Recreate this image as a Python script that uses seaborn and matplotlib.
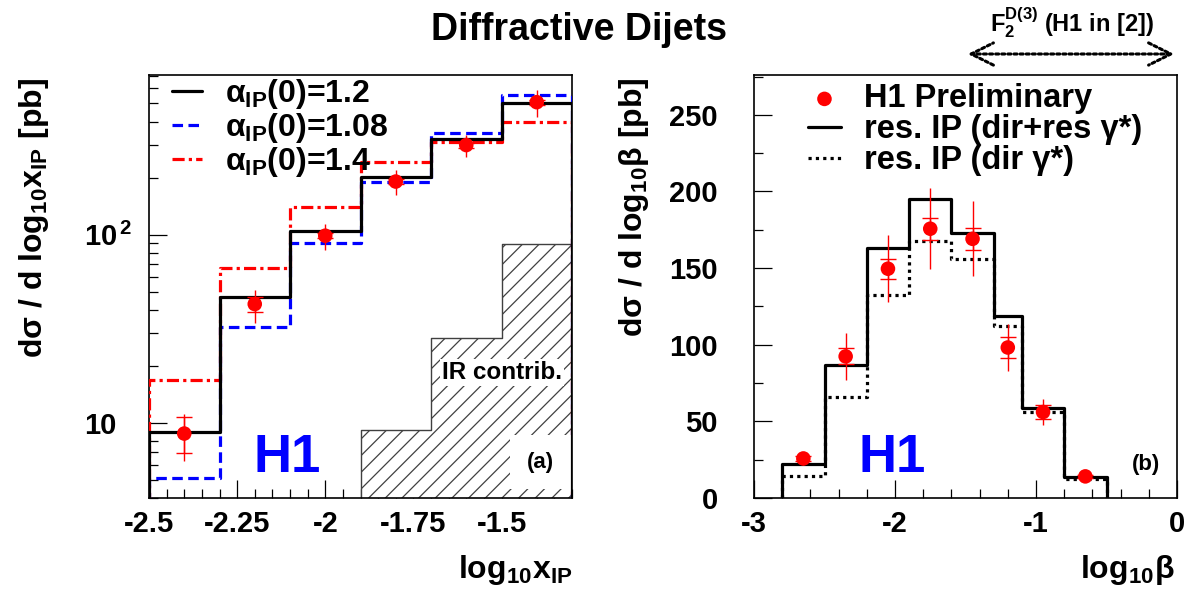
import numpy as np
import matplotlib
matplotlib.use("Agg")
import matplotlib.pyplot as plt
from matplotlib.ticker import FixedLocator, MultipleLocator, LogLocator, FuncFormatter, NullFormatter
from matplotlib.patches import FancyArrowPatch
import seaborn as sns

# ---- (a) d sigma / d log10 x_IP ----
xip_edges = [-2.5, -2.3, -2.1, -1.9, -1.7, -1.5, -1.3]
xip_data = [8.8, 42.9, 99.0, 192.0, 300.0, 507.0]
xip_tot_lo = [6.3, 34.2, 83.2, 163.0, 259.0, 424.0]
xip_tot_hi = [11.2, 51.1, 114.0, 221.0, 340.0, 589.0]
xip_stat_lo = [6.9, 38.7, 96.0, 186.0, 291.0, 492.0]
xip_stat_hi = [10.8, 47.0, 102.0, 198.0, 309.0, 522.0]
xip_alpha_120 = [8.96, 47.0, 105.0, 204.0, 324.0, 502.0]
xip_alpha_108 = [5.1, 32.6, 91.0, 190.0, 347.0, 553.0]
xip_alpha_140 = [17.0, 66.6, 140.0, 245.0, 313.0, 400.0]
ir_edges = [-1.9, -1.7, -1.5, -1.3]
ir_contrib = [9.2, 28.3, 89.6]
xip_labels = ["\u03b1$_{\\rm IP}$(0)=1.2", "\u03b1$_{\\rm IP}$(0)=1.08", "\u03b1$_{\\rm IP}$(0)=1.4"]

# ---- (b) d sigma / d log10 beta ----
beta_edges = [-2.8, -2.5, -2.2, -1.9, -1.6, -1.3, -1.1, -0.8, -0.5]
beta_data = [25.8, 92.4, 149.6, 175.7, 169.1, 98.2, 56.1, 14.1]
beta_tot_err = [4.2, 15.5, 21.9, 26.4, 24.5, 15.3, 8.7, 2.0]
beta_stat_err = [1.5, 5.2, 6.5, 7.1, 7.1, 7.1, 4.4, 1.0]
beta_dir_res = [22.2, 87.0, 163.0, 195.0, 172.9, 118.9, 58.7, 13.5]
beta_dir = [14.5, 65.6, 132.6, 168.0, 155.9, 112.0, 55.8, 12.5]
beta_labels = ["H1 Preliminary", "res. IP (dir+res \u03b3*)", "res. IP (dir \u03b3*)"]

sns.set_theme(style="white")
plt.rcParams.update({
    "font.family": ["Liberation Sans", "DejaVu Sans"],
    "font.weight": "bold",
    "text.color": "black",
    "axes.labelcolor": "black",
    "xtick.color": "black",
    "ytick.color": "black",
    "axes.unicode_minus": False,
    "mathtext.fontset": "custom",
    "mathtext.rm": "Liberation Sans:bold",
    "mathtext.bf": "Liberation Sans:bold",
    "mathtext.it": "Liberation Sans:bold:italic",
    "mathtext.sf": "Liberation Sans:bold",
    "hatch.color": "#404040",
    "hatch.linewidth": 0.9,
})

W, H = 1191, 598
fig = plt.figure(figsize=(W / 100, H / 100), dpi=100)


def px_rect(x0, y0, x1, y1):
    return [x0 / W, 1 - y1 / H, (x1 - x0) / W, (y1 - y0) / H]


ax_a = fig.add_axes(px_rect(149, 75, 572, 498))
ax_b = fig.add_axes(px_rect(754, 75, 1177, 498))


def centers_of(edges):
    e = np.asarray(edges, float)
    return 0.5 * (e[:-1] + e[1:])


def step_outline(edges, heights):
    """Histogram outline (with drops to the baseline at both ends)."""
    e = np.asarray(edges, float)
    h = np.asarray(heights, float)
    x = np.concatenate([[e[0]], e, [e[-1]]])
    y = np.concatenate([[0.0], h, [h[-1]], [0.0]])
    return x, y


def draw_hist(ax, edges, heights, **kw):
    x, y = step_outline(edges, heights)
    sns.lineplot(x=x, y=y, sort=False, estimator=None, drawstyle="steps-post", ax=ax, **kw)
    return ax.lines[-1]


def draw_points(ax, centers, vals, lo_tot, hi_tot, lo_stat, hi_stat):
    vals = np.asarray(vals, float)
    ax.errorbar(centers, vals, yerr=[vals - np.asarray(lo_tot), np.asarray(hi_tot) - vals],
                fmt="none", ecolor="red", elinewidth=1.0, capsize=0, zorder=5)
    ax.errorbar(centers, vals, yerr=[vals - np.asarray(lo_stat), np.asarray(hi_stat) - vals],
                fmt="none", ecolor="red", elinewidth=1.0, capsize=6, capthick=1.0, zorder=5)
    sns.scatterplot(x=centers, y=vals, color="red", s=110, edgecolor="none", zorder=6, ax=ax)
    return ax.collections[-1]


LW = 2.3
# ---------------- panel (a) ----------------
ax = ax_a
sns.histplot(x=centers_of(ir_edges), weights=ir_contrib, bins=ir_edges, element="step",
             fill=True, color="white", alpha=1.0, hatch="//", edgecolor="#404040",
             linewidth=1.0, ax=ax, zorder=1)
h120 = draw_hist(ax, xip_edges, xip_alpha_120, color="black", linewidth=LW, zorder=4)
h108 = draw_hist(ax, xip_edges, xip_alpha_108, color="#0000ff", linewidth=LW, zorder=3)
h108.set_dashes((3.3, 1.7))
h140 = draw_hist(ax, xip_edges, xip_alpha_140, color="#ff0000", linewidth=LW, zorder=3)
h140.set_dashes((3.8, 1.3, 1.0, 1.3))
xc = centers_of(xip_edges)
draw_points(ax, xc, xip_data, xip_tot_lo, xip_tot_hi, xip_stat_lo, xip_stat_hi)

ax.set_yscale("log")
ax.set_xlim(xip_edges[0], xip_edges[-1])
ax.set_ylim(4.0, 707.0)
ax.xaxis.set_major_locator(MultipleLocator(0.25))
ax.xaxis.set_minor_locator(MultipleLocator(0.05))
ax.xaxis.set_major_formatter(FuncFormatter(lambda v, p: f"{v:g}"))
ax.yaxis.set_major_locator(FixedLocator([10, 100]))
ax.yaxis.set_minor_locator(LogLocator(base=10, subs=np.arange(2, 10)))
ax.yaxis.set_minor_formatter(NullFormatter())
ax.yaxis.set_major_formatter(FuncFormatter(lambda v, p: "10" if v < 50 else "10$^{\\,2}$"))
ax.tick_params(axis="y", which="major", pad=47)

ax.legend([h120, h108, h140], xip_labels, loc="upper left", bbox_to_anchor=(0.054, 0.995),
          frameon=False, fontsize=23, handlelength=0.95, handletextpad=0.72,
          labelspacing=0.0, borderpad=0.0, borderaxespad=0.0)

ax.text(0.326, 0.095, "H1", transform=ax.transAxes, color="#0000ff", fontsize=38,
        fontweight="bold", ha="center", va="center", zorder=7)
ax.text(0.835, 0.296, "IR contrib.", transform=ax.transAxes, fontsize=17.5, fontweight="bold",
        ha="center", va="center", zorder=3,
        bbox=dict(boxstyle="square,pad=0.08", fc="white", ec="none"))
ax.text(0.925, 0.085, "(a)", transform=ax.transAxes, fontsize=16, fontweight="bold",
        ha="center", va="center", zorder=3,
        bbox=dict(boxstyle="square,pad=0.75", fc="white", ec="none"))

# ---------------- panel (b) ----------------
ax = ax_b
hres = draw_hist(ax, beta_edges, beta_dir_res, color="black", linewidth=LW, zorder=4)
hdir = draw_hist(ax, beta_edges, beta_dir, color="black", linewidth=LW, zorder=3)
hdir.set_dashes((1.0, 1.3))
bc = centers_of(beta_edges)
bd = np.asarray(beta_data)
hpts = draw_points(ax, bc, bd, bd - beta_tot_err, bd + beta_tot_err,
                   bd - beta_stat_err, bd + beta_stat_err)
ax.set_xlim(-3, 0)
ax.set_ylim(0, 276)
ax.xaxis.set_major_locator(MultipleLocator(1))
ax.xaxis.set_minor_locator(MultipleLocator(0.2))
ax.xaxis.set_major_formatter(FuncFormatter(lambda v, p: f"{v:g}"))
ax.yaxis.set_major_locator(MultipleLocator(50))
ax.yaxis.set_minor_locator(MultipleLocator(25))
ax.tick_params(axis="y", which="major", pad=26)

ax.legend([hpts, hres, hdir], beta_labels, loc="upper left", bbox_to_anchor=(0.128, 0.98),
          frameon=False, fontsize=23.5, handlelength=1.0, handletextpad=0.7,
          labelspacing=0.0, borderpad=0.0, borderaxespad=0.0)
ax.text(0.326, 0.095, "H1", transform=ax.transAxes, color="#0000ff", fontsize=38,
        fontweight="bold", ha="center", va="center", zorder=7)
ax.text(0.927, 0.08, "(b)", transform=ax.transAxes, fontsize=16, fontweight="bold",
        ha="center", va="center", zorder=3)

# ---------------- common styling ----------------
for a in (ax_a, ax_b):
    a.set_xlabel("")
    a.set_ylabel("")
    for s in a.spines.values():
        s.set_color("black")
        s.set_linewidth(1.2)
        s.set_visible(True)
    a.tick_params(which="both", direction="in", top=False, right=False,
                  bottom=True, left=True, color="black", labelcolor="black", labelsize=21)
    a.tick_params(which="major", length=13, width=0.9)
    a.tick_params(which="minor", length=6.5, width=0.9)
    a.tick_params(axis="x", which="major", pad=9)
for t in ax_a.get_yticklabels():
    t.set_horizontalalignment("left")

fig.text(0.0285, 1 - 78 / H, "d\u03c3 / d log$_{10}$x$_{\\rm IP}$ [pb]", rotation=90,
         ha="center", va="top", fontsize=23, fontweight="bold")
fig.text(634 / W, 1 - 77 / H, "d\u03c3 / d log$_{10}$\u03b2 [pb]", rotation=90,
         ha="center", va="top", fontsize=23, fontweight="bold")
fig.text(572 / W, 1 - 570 / H, "log$_{10}$x$_{\\rm IP}$", ha="right", va="center",
         fontsize=23, fontweight="bold")
fig.text(1175 / W, 1 - 570 / H, "log$_{10}$\u03b2", ha="right", va="center",
         fontsize=23, fontweight="bold")

fig.text(579 / W, 1 - 30 / H, "Diffractive Dijets", ha="center", va="center",
         fontsize=27, fontweight="bold")
fig.text(1072 / W, 1 - 23 / H, "F$_2^{\\rm D(3)}$ (H1 in [2])", ha="center", va="center",
         fontsize=17, fontweight="bold")
fig.add_artist(FancyArrowPatch((965 / W, 1 - 54 / H), (1177 / W, 1 - 54 / H),
                               transform=fig.transFigure,
                               arrowstyle="<->,head_length=16,head_width=8",
                               linestyle=(0, (1, 1)), linewidth=2.2, color="black"))

fig.savefig("out.png", dpi=100)
